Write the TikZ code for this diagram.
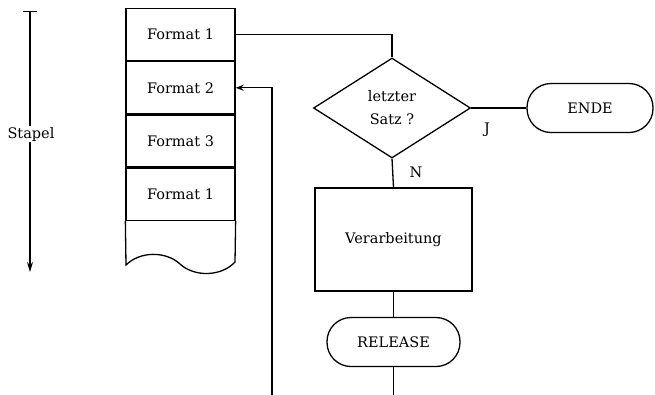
\documentclass[tikz,border=0pt]{standalone}
\usepackage{fontspec}
\setmainfont{DejaVu Serif}
\usetikzlibrary{arrows.meta,positioning,shapes.geometric}

\begin{document}
\begin{tikzpicture}[x=1pt, y=-1pt,
  line width=1.3pt,
  cell/.style={draw, minimum width=109pt, minimum height=52pt, inner sep=0pt,
               font=\fontsize{14.5}{17}\selectfont},
  dec/.style={draw, diamond, aspect=1.57, minimum width=157pt, minimum height=100pt,
              inner sep=0pt, align=center, font=\fontsize{14.5}{23}\selectfont},
  proc/.style={draw, minimum width=157pt, minimum height=103pt,
               font=\fontsize{14.5}{17}\selectfont},
  term/.style={draw, rounded corners=24pt, minimum height=49pt,
               font=\fontsize{14.5}{17}\selectfont},
  lbl/.style={font=\fontsize{14.5}{17}\selectfont},
  node distance=0pt
]
  \useasboundingbox (0,0) rectangle (655,394);
  % Stapel
  \node[cell] (f1) at (180.5,34.5) {Format 1};
  \node[cell, below=of f1] (f2) {Format 2};
  \node[cell, below=of f2] (f3) {Format 3};
  \node[cell, below=of f3] (f4) {Format 1};
  \draw (f4.south west) -- (126,265)
    .. controls (140,251) and (166,251) .. (180,264)
    .. controls (194,277) and (221,277) .. (235,262)
    -- (f4.south east);
  \coordinate (st0) at (30,11);
  \coordinate (st1) at (30,272);
  \draw[{Bar[width=14pt]}-{Stealth[length=10pt,width=6pt]}] (st0) -- (st1);
  \node[lbl, fill=white, inner sep=1pt] (stapel) at (31,134) {Stapel};
  % Ablauf
  \node[dec] (satz) at (392,108) {letzter\\Satz ?};
  \node[term, minimum width=126pt] (ende) at (590,108) {ENDE};
  \node[proc] (verarb) at (393.5,239.5) {Verarbeitung};
  \node[term, minimum width=133pt] (release) at (393.5,342) {RELEASE};
  \coordinate (loop) at (272,396);
  \draw (f1.east) -| (satz.north);
  \draw (satz.east) -- (ende.west);
  \draw (satz.south) -- (verarb.north);
  \draw (verarb.south) -- (release.north);
  \draw[-{Stealth[length=8pt,width=6pt]}] (release.south) |- (loop) |- (f2.east);
  \node[lbl] (j) at (487,130) {J};
  \node[lbl] (n) at (416,172) {N};
\end{tikzpicture}
\end{document}
